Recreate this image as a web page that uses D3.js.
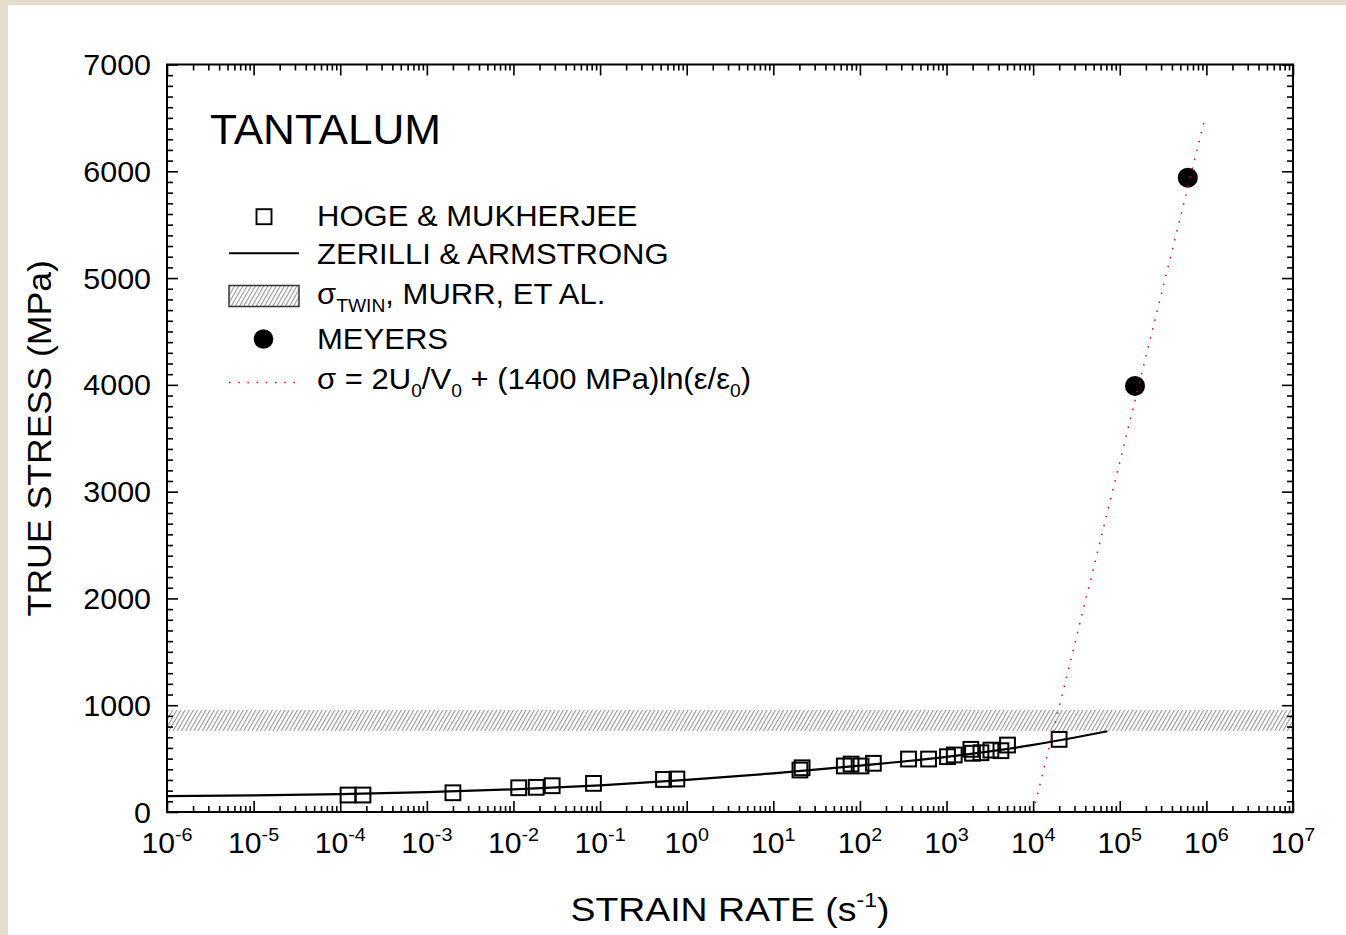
<!DOCTYPE html>
<html><head><meta charset="utf-8">
<script src="https://cdn.jsdelivr.net/npm/d3@7"></script>
<style>
body{margin:0;background:#fff;overflow:hidden}
text{font-family:"Liberation Sans",Arial,Helvetica,sans-serif;fill:#000}
</style>
</head><body>
<svg id="c" width="1346" height="935"></svg>
<script>
// ---- data ----
const xExponents = [-6,-5,-4,-3,-2,-1,0,1,2,3,4,5,6,7];
const yTickValues = [0,1000,2000,3000,4000,5000,6000,7000];

// Hoge & Mukherjee (strain rate s^-1, true stress MPa)
const hogeRate   = [1.23e-4,1.83e-4,2.0e-3,1.15e-2,1.83e-2,2.8e-2,8.4e-2,0.54,0.77,20.3,21.5,66,79,103,143,364,620,1026,1227,1910,1995,2495,3253,4246,5058,19950];
const hogeStress = [159,159,180,227,231,246,268,305,309,393,414,431,449,431,456,496,496,518,534,587,550,555,580,574,627,680];

// Zerilli & Armstrong curve
const zaRate   = [1e-6,1e-5,1e-4,1e-3,1e-2,1e-1,1,10,100,1000,1e4,7.2e4];
const zaStress = [148,156,168,186,212,250,300,362,435,517,628,756];

// twin stress band (Murr et al.)
const twinLow = 760, twinHigh = 955;

// Meyers
const meyersRate   = [1.5e5,6.1e5];
const meyersStress = [3990,5940];

// sigma = 2U0/V0 + (1400 MPa) ln(e/e0)
const fitRate   = [1.0e4,9.5e5];
const fitStress = [0,6480];

// ---- drawing ----
const svg = d3.select("#c");
const W = 1346, H = 935;
const L = 167, R = 1293, T = 64.5, B = 812;
const x = d3.scaleLog().domain([1e-6,1e7]).range([L,R]);
const y = d3.scaleLinear().domain([0,7000]).range([B,T]);

const defs = svg.append("defs");
const pat = defs.append("pattern").attr("id","hatch").attr("patternUnits","userSpaceOnUse")
  .attr("width",3.6).attr("height",3.6).attr("patternTransform","rotate(30)");
pat.append("rect").attr("width",3.6).attr("height",3.6).attr("fill","#fff");
pat.append("line").attr("x1",0.6).attr("y1",0).attr("x2",0.6).attr("y2",3.6)
  .attr("stroke","#8a8a8a").attr("stroke-width",1);

// stretched text helper (reference glyphs are a little wider than Liberation Sans)
function addText(parent, px, py, size, anchor, sx, rot){
  const g = parent.append("g").attr("transform",`translate(${px},${py})${rot?` rotate(${rot})`:""} scale(${sx},1)`);
  return g.append("text").attr("x",0).attr("y",0).attr("font-size",size).attr("text-anchor",anchor||"start");
}

// background
svg.append("rect").attr("width",W).attr("height",H).attr("fill","#e6ddcc");
svg.append("rect").attr("x",8).attr("y",5).attr("width",W-8).attr("height",H-5).attr("fill","#fff");

// twin band
svg.append("rect").attr("x",L).attr("y",y(twinHigh)).attr("width",R-L)
  .attr("height",y(twinLow)-y(twinHigh)).attr("fill","url(#hatch)");

// ZA line
const za = zaRate.map((r,i)=>[r,zaStress[i]]);
svg.append("path").datum(za)
  .attr("d",d3.line().x(d=>x(d[0])).y(d=>y(d[1])).curve(d3.curveMonotoneX))
  .attr("fill","none").attr("stroke","#000").attr("stroke-width",2.2);

// squares
const sq = 14.8;
svg.append("g").selectAll("rect").data(hogeRate.map((r,i)=>[r,hogeStress[i]])).join("rect")
  .attr("x",d=>x(d[0])-sq/2).attr("y",d=>y(d[1])-sq/2).attr("width",sq).attr("height",sq)
  .attr("fill","none").attr("stroke","#000").attr("stroke-width",2);

// Meyers circles
svg.append("g").selectAll("circle").data(meyersRate.map((r,i)=>[r,meyersStress[i]])).join("circle")
  .attr("cx",d=>x(d[0])).attr("cy",d=>y(d[1])).attr("r",10).attr("fill","#000");

// fit line (red dotted)
const fit = fitRate.map((r,i)=>[r,fitStress[i]]);
svg.append("path").datum(fit)
  .attr("d",d3.line().x(d=>x(d[0])).y(d=>y(d[1])))
  .attr("fill","none").attr("stroke","#ff0000").attr("stroke-width",1.5)
  .attr("stroke-dasharray","1.5 7.7");

// axes / ticks
const majors = xExponents.map(e=>Math.pow(10,e));
const minors = [];
for (let e=-6;e<7;e++) for (let k=2;k<=9;k++) minors.push(k*Math.pow(10,e));
const yMinor = d3.range(0,7001,100).filter(v=>v%1000!==0);

function styleAxis(g){ g.select(".domain").remove(); g.selectAll("line").attr("stroke","#000").attr("stroke-width",1.6); g.selectAll("text").remove(); }
svg.append("g").attr("transform",`translate(0,${B})`).call(d3.axisBottom(x).tickValues(minors).tickSize(-6).tickFormat("")).call(styleAxis);
svg.append("g").attr("transform",`translate(0,${B})`).call(d3.axisBottom(x).tickValues(majors).tickSize(-11).tickFormat("")).call(styleAxis);
svg.append("g").attr("transform",`translate(0,${T})`).call(d3.axisTop(x).tickValues(minors).tickSize(-6).tickFormat("")).call(styleAxis);
svg.append("g").attr("transform",`translate(0,${T})`).call(d3.axisTop(x).tickValues(majors).tickSize(-11).tickFormat("")).call(styleAxis);
svg.append("g").attr("transform",`translate(${L},0)`).call(d3.axisLeft(y).tickValues(yMinor).tickSize(-6).tickFormat("")).call(styleAxis);
svg.append("g").attr("transform",`translate(${L},0)`).call(d3.axisLeft(y).tickValues(yTickValues).tickSize(-11).tickFormat("")).call(styleAxis);
svg.append("g").attr("transform",`translate(${R},0)`).call(d3.axisRight(y).tickValues(yMinor).tickSize(-6).tickFormat("")).call(styleAxis);
svg.append("g").attr("transform",`translate(${R},0)`).call(d3.axisRight(y).tickValues(yTickValues).tickSize(-11).tickFormat("")).call(styleAxis);

// frame
svg.append("rect").attr("x",L).attr("y",T).attr("width",R-L).attr("height",B-T)
  .attr("fill","none").attr("stroke","#000").attr("stroke-width",2);

// tick labels
const fs = 29;
xExponents.forEach(e=>{
  const t = addText(svg, x(Math.pow(10,e)), 853, fs, "middle", 1.04);
  t.append("tspan").text("10");
  t.append("tspan").attr("font-size",19).attr("dy",-12).text(String(e));
});
yTickValues.forEach(v=>{
  addText(svg, 151, y(v)+10.5, fs, "end", 1.05).text(String(v));
});

// axis titles
const xt = addText(svg, (L+R)/2, 921, 34, "middle", 1.1);
xt.append("tspan").text("STRAIN RATE (s");
xt.append("tspan").attr("font-size",21).attr("dy",-14).text("-1");
xt.append("tspan").attr("dy",14).text(")");

addText(svg, 51, (T+B)/2, 33, "middle", 1.08, -90).text("TRUE STRESS (MPa)");

// title
addText(svg, 210, 144, 42, "start", 1.05).text("TANTALUM");

// legend
const lfs = 29, tx = 317, lsx = 1.07;
const lg = svg.append("g");
lg.append("rect").attr("x",264-7.5).attr("y",216.7-7.5).attr("width",15).attr("height",15)
  .attr("fill","none").attr("stroke","#000").attr("stroke-width",1.9);
addText(lg, tx, 226, lfs, "start", lsx).text("HOGE & MUKHERJEE");

lg.append("line").attr("x1",229).attr("x2",299).attr("y1",253.3).attr("y2",253.3)
  .attr("stroke","#000").attr("stroke-width",2);
addText(lg, tx, 263.5, lfs, "start", lsx).text("ZERILLI & ARMSTRONG");

lg.append("rect").attr("x",229).attr("y",285.5).attr("width",70).attr("height",21)
  .attr("fill","url(#hatch)").attr("stroke","#333").attr("stroke-width",1.5);
const t3 = addText(lg, tx, 303.5, lfs, "start", lsx);
t3.append("tspan").text("σ");
t3.append("tspan").attr("font-size",18).attr("dy",8).text("TWIN");
t3.append("tspan").attr("dy",-8).text(", MURR, ET AL.");

lg.append("circle").attr("cx",263.5).attr("cy",339).attr("r",9.8).attr("fill","#000");
addText(lg, tx, 348.5, lfs, "start", lsx).text("MEYERS");

lg.append("line").attr("x1",229).attr("x2",299).attr("y1",382.5).attr("y2",382.5)
  .attr("stroke","#ff0000").attr("stroke-width",1.5).attr("stroke-dasharray","1.5 7.7");
const t5 = addText(lg, tx, 389, lfs, "start", lsx);
t5.append("tspan").text("σ = 2U");
t5.append("tspan").attr("font-size",18).attr("dy",8).text("0");
t5.append("tspan").attr("dy",-8).text("/V");
t5.append("tspan").attr("font-size",18).attr("dy",8).text("0");
t5.append("tspan").attr("dy",-8).text(" + (1400 MPa)ln(ε/ε");
t5.append("tspan").attr("font-size",18).attr("dy",8).text("0");
t5.append("tspan").attr("dy",-8).text(")");
</script>
</body></html>
